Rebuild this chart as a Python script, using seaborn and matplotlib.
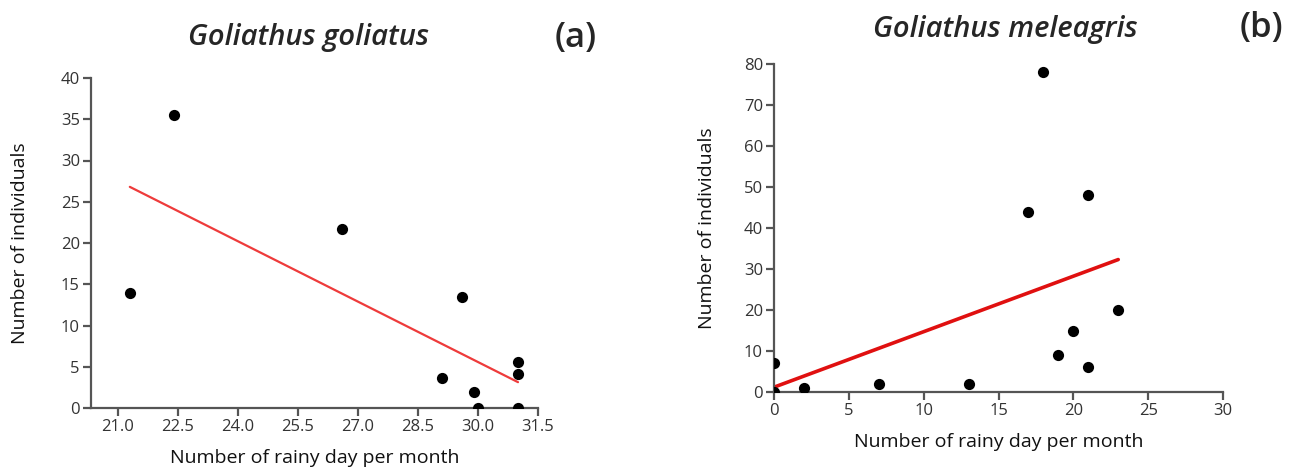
import matplotlib
matplotlib.use("Agg")
import matplotlib.pyplot as plt
import seaborn as sns
import pandas as pd

# Panel (a): Goliathus goliatus
rain_a = [21.3, 22.4, 26.6, 29.6, 29.1, 29.9, 30.0, 31.0, 31.0, 31.0]
count_a = [14, 35.5, 21.7, 13.4, 3.6, 2.0, 0, 5.6, 4.1, 0]
xticks_a = [21.0, 22.5, 24.0, 25.5, 27.0, 28.5, 30.0, 31.5]
yticks_a = [0, 5, 10, 15, 20, 25, 30, 35, 40]

# Panel (b): Goliathus meleagris
rain_b = [0, 0, 2, 7, 13, 17, 18, 19, 20, 21, 21, 23]
count_b = [7, 0, 1, 2, 2, 44, 78, 9, 15, 48, 6, 20]
xticks_b = [0, 5, 10, 15, 20, 25, 30]
yticks_b = [0, 10, 20, 30, 40, 50, 60, 70, 80]

titles = ["Goliathus goliatus", "Goliathus meleagris"]
tags = ["(a)", "(b)"]
xlabel = "Number of rainy day per month"
ylabel = "Number of individuals"

sns.set_style("ticks")
plt.rcParams['font.family'] = ['Open Sans', 'DejaVu Sans']

fig = plt.figure(figsize=(12.99, 4.75), dpi=100)
ax_a = fig.add_axes([91/1299, 1-408/475, (538-91)/1299, 330/475])
ax_b = fig.add_axes([774/1299, 1-392/475, (1223-774)/1299, 328/475])

df_a = pd.DataFrame({"rain": rain_a, "count": count_a})
df_b = pd.DataFrame({"rain": rain_b, "count": count_b})

sns.regplot(data=df_a, x="rain", y="count", ax=ax_a, ci=None,
            scatter_kws=dict(color="black", s=65, linewidths=0, alpha=1, zorder=3),
            line_kws=dict(color="#ee3b3b", lw=1.6, zorder=2))
sns.regplot(data=df_b, x="rain", y="count", ax=ax_b, ci=None,
            scatter_kws=dict(color="black", s=65, linewidths=0, alpha=1, zorder=3),
            line_kws=dict(color="#e01010", lw=2.6, zorder=2))

ax_a.set_xlim(20.33, 31.5)
ax_a.set_ylim(0, 40)
ax_a.set_xticks(xticks_a)
ax_a.set_xticklabels([f"{t:.1f}" for t in xticks_a])
ax_a.set_yticks(yticks_a)

ax_b.set_xlim(0, 30)
ax_b.set_ylim(0, 80)
ax_b.set_xticks(xticks_b)
ax_b.set_yticks(yticks_b)

for ax, title, tag, ypad in [(ax_a, titles[0], tags[0], 23), (ax_b, titles[1], tags[1], 20)]:
    sns.despine(ax=ax)
    for sp in ["left", "bottom"]:
        ax.spines[sp].set_color("#555555")
        ax.spines[sp].set_linewidth(1.6)
    ax.tick_params(axis="both", direction="out", length=6, width=1.6,
                   color="#555555", labelcolor="#333333", labelsize=12, pad=2)
    ax.set_xlabel(xlabel, fontsize=14, color="#111111", labelpad=10)
    ax.set_ylabel(ylabel, fontsize=14, color="#111111", labelpad=ypad)

fig.text(308/1299, 1-38/475, titles[0], ha="center", va="center",
         fontsize=21, style="italic", weight="semibold")
fig.text(576/1299, 1-38/475, tags[0], ha="center", va="center",
         fontsize=25, weight="semibold")
fig.text(1005/1299, 1-30/475, titles[1], ha="center", va="center",
         fontsize=21, style="italic", weight="semibold")
fig.text(1261/1299, 1-28/475, tags[1], ha="center", va="center",
         fontsize=25, weight="semibold")

fig.savefig("out.png", dpi=100)
